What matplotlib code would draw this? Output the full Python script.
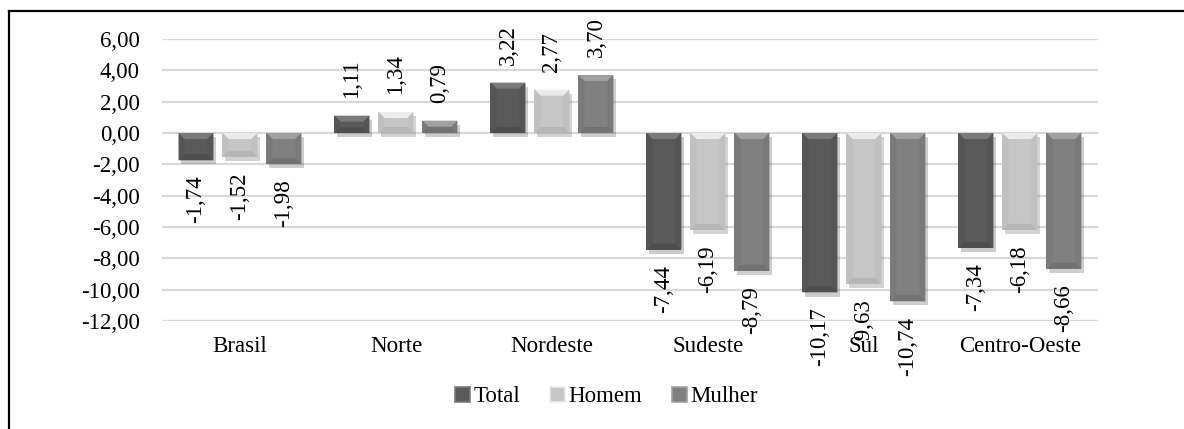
import numpy as np
import matplotlib
matplotlib.use("Agg")
import matplotlib.pyplot as plt
from matplotlib.patches import Polygon, Patch
from matplotlib.lines import Line2D
import matplotlib.patheffects as pe

plt.rcParams['font.family'] = ['Liberation Serif', 'DejaVu Serif']

# regional variation by sex
regioes = ['Brasil', 'Norte', 'Nordeste', 'Sudeste', 'Sul', 'Centro-Oeste']
total = [-1.74, 1.11, 3.22, -7.44, -10.17, -7.34]
homem = [-1.52, 1.34, 2.77, -6.19, -9.63, -6.18]
mulher = [-1.98, 0.79, 3.70, -8.79, -10.74, -8.66]
series_names = ['Total', 'Homem', 'Mulher']

# face, top bevel, side bevel, bottom bevel
colors = {
    'Total': ('#5a5a5a', '#7a7a7a', '#555555', '#4e4e4e'),
    'Homem': ('#c6c6c6', '#ececec', '#c0c0c0', '#b6b6b6'),
    'Mulher': ('#808080', '#a0a0a0', '#7a7a7a', '#727272'),
}
FS = 16.5

fig = plt.figure(figsize=(11.84, 4.29), dpi=100)
ax = fig.add_axes([0.1368, 0.2517, 0.7905, 0.6573])
ax.set_xlim(-0.5, len(regioes) - 0.5)
ax.set_ylim(-12, 6)

x = np.arange(len(regioes))
width = 0.224
offset = 0.282

# bevel size in data units (about 6 px)
p0 = ax.transData.transform((0, 0))
p1 = ax.transData.transform((1, 1))
bx = 6 / (p1[0] - p0[0])
by = 6 / (p1[1] - p0[1])

def fmt(v):
    return f"{v:.2f}".replace('.', ',')

def bevel(rect, cols):
    x0 = rect.get_x()
    x1 = x0 + rect.get_width()
    y0 = min(rect.get_y(), rect.get_y() + rect.get_height())
    y1 = max(rect.get_y(), rect.get_y() + rect.get_height())
    dy = min(by, (y1 - y0) / 2)
    dx = min(bx, (x1 - x0) / 2)
    _, top, side, bottom = cols
    faces = [
        ([(x0, y1), (x1, y1), (x1 - dx, y1 - dy), (x0 + dx, y1 - dy)], top),
        ([(x0, y0), (x1, y0), (x1 - dx, y0 + dy), (x0 + dx, y0 + dy)], bottom),
        ([(x0, y0), (x0 + dx, y0 + dy), (x0 + dx, y1 - dy), (x0, y1)], side),
        ([(x1, y0), (x1 - dx, y0 + dy), (x1 - dx, y1 - dy), (x1, y1)], side),
    ]
    for pts, c in faces:
        ax.add_patch(Polygon(pts, closed=True, facecolor=c, edgecolor='none', zorder=3))

handles = []
for vals, name, k in zip([total, homem, mulher], series_names, [-1, 0, 1]):
    cols = colors[name]
    bars = ax.bar(x + k * offset, vals, width, color=cols[0], edgecolor='none', zorder=2)
    for rect, v in zip(bars, vals):
        rect.set_path_effects([pe.SimplePatchShadow(offset=(2, -3), alpha=0.22), pe.Normal()])
        bevel(rect, cols)
        cx = rect.get_x() + rect.get_width() / 2
        if v >= 0:
            ax.annotate(fmt(v), (cx, v), xytext=(0, 13), textcoords='offset points',
                        rotation=90, ha='center', va='bottom', fontsize=FS, zorder=5)
        else:
            ax.annotate(fmt(v), (cx, v), xytext=(0, -11), textcoords='offset points',
                        rotation=90, ha='center', va='top', fontsize=FS, zorder=5)
    handles.append(Patch(facecolor=cols[0], edgecolor=cols[1], linewidth=1.2, label=name))

ax.set_yticks(np.arange(-12, 7, 2))
ax.set_yticklabels([fmt(t) for t in np.arange(-12, 7, 2)], fontsize=FS)
ax.set_xticks(x)
ax.set_xticklabels(regioes, fontsize=FS)
ax.tick_params(axis='y', length=0, pad=16)
ax.tick_params(axis='x', length=0, pad=11)
ax.grid(axis='y', color='#d9d9d9', linewidth=1.6, zorder=0)
ax.set_axisbelow(True)
for s in ax.spines.values():
    s.set_visible(False)

fig.legend(handles=handles, loc='center', bbox_to_anchor=(0.512, 0.075), ncol=3,
           frameon=False, fontsize=FS, handlelength=0.65, handleheight=0.65,
           handletextpad=0.15, columnspacing=1.3)

# outer frame (top and left edges)
fig.add_artist(Line2D([0.0072, 1.0], [0.9732, 0.9732], color='black', linewidth=1.6,
                      transform=fig.transFigure))
fig.add_artist(Line2D([0.0072, 0.0072], [0.0, 0.9732], color='black', linewidth=1.6,
                      transform=fig.transFigure))

fig.savefig('out.png', dpi=100)
